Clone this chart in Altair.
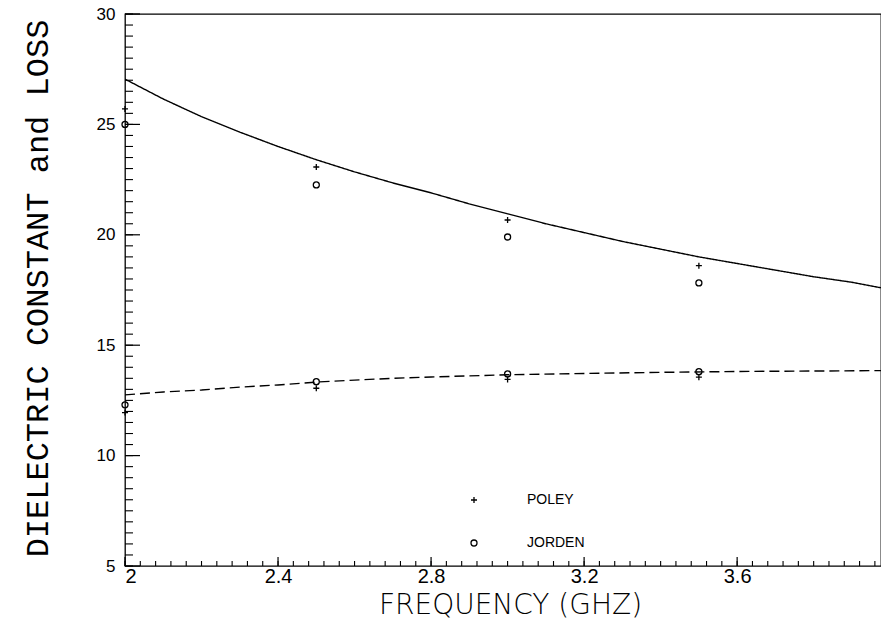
import altair as alt
import pandas as pd

# ---- data ----
const_freq = [2.0, 2.1, 2.2, 2.3, 2.4, 2.5, 2.6, 2.7, 2.8, 2.9, 3.0, 3.1, 3.2, 3.3, 3.4, 3.5, 3.6, 3.7, 3.8, 3.9, 3.976]
const_vals = [27.05, 26.15, 25.35, 24.65, 24.0, 23.4, 22.85, 22.35, 21.9, 21.4, 20.95, 20.5, 20.1, 19.7, 19.35, 19.0, 18.7, 18.4, 18.1, 17.85, 17.6]
loss_freq = [2.0, 2.1, 2.2, 2.3, 2.4, 2.5, 2.6, 2.7, 2.8, 2.9, 3.0, 3.2, 3.4, 3.6, 3.8, 3.976]
loss_vals = [12.75, 12.88, 12.97, 13.1, 13.2, 13.33, 13.42, 13.5, 13.56, 13.61, 13.66, 13.72, 13.77, 13.81, 13.83, 13.85]

meas_freq = [2.0, 2.5, 3.0, 3.5, 2.0, 2.5, 3.0, 3.5]
poley_vals = [25.7, 23.07, 20.67, 18.6, 11.95, 13.05, 13.45, 13.55]
jorden_vals = [25.0, 22.26, 19.9, 17.82, 12.3, 13.35, 13.7, 13.8]
series_names = ["POLEY", "JORDEN"]

x_major = [2, 2.4, 2.8, 3.2, 3.6]
y_major = [5, 10, 15, 20, 25, 30]
x_minor = [round(2 + 0.04 * i, 2) for i in range(50)]
y_minor = [5 + 0.5 * i for i in range(51)]

W, H = 756, 552

# ---- tables ----
curves = pd.concat([
    pd.DataFrame({"freq": const_freq, "value": const_vals, "curve": "const"}),
    pd.DataFrame({"freq": loss_freq, "value": loss_vals, "curve": "loss"}),
])
meas = pd.concat([
    pd.DataFrame({"freq": meas_freq, "value": poley_vals, "series": "POLEY"}),
    pd.DataFrame({"freq": meas_freq, "value": jorden_vals, "series": "JORDEN"}),
])

xs = alt.Scale(domain=[2, 3.976], nice=False, zero=False)
ys = alt.Scale(domain=[5, 30], nice=False, zero=False)

plus_path = "M-1,0L1,0M0,-1L0,1"

x_label_axis = alt.Axis(
    orient="bottom", values=x_major, format="~g", ticks=False, domain=False, grid=False,
    labelFont="Liberation Sans", labelFontSize=20, labelColor="black", labelPadding=0,
    title="FREQUENCY  (GHZ)", titleFont="DejaVu Sans", titleFontSize=28, titleFontWeight=300,
    titleColor="black", titleX=385, titleY=47, titleAlign="center", titleBaseline="alphabetic",
)
y_label_axis = alt.Axis(
    orient="left", values=y_major, format="d", ticks=False, domain=False, grid=False,
    labelFont="Liberation Sans", labelFontSize=17, labelColor="black", labelPadding=10,
    title="DIELECTRIC CONSTANT and LOSS", titleFont="Liberation Mono", titleFontSize=32,
    titleFontWeight="normal", titleColor="black", titleAngle=270, titleX=-78, titleY=274,
    titleAlign="center", titleBaseline="alphabetic",
)

# inward-pointing ticks, positioned through the scales
xmaj = alt.Chart(pd.DataFrame({"xt": x_major})).mark_rule(color="black", strokeWidth=1.2).encode(
    x=alt.X("xt:Q", scale=xs, axis=x_label_axis), y=alt.value(H), y2=alt.value(H - 9))
xmin = alt.Chart(pd.DataFrame({"xm": x_minor})).mark_rule(color="black", strokeWidth=1.1).encode(
    x=alt.X("xm:Q", scale=xs), y=alt.value(H), y2=alt.value(H - 5))
ymaj = alt.Chart(pd.DataFrame({"yt": y_major})).mark_rule(color="black", strokeWidth=1.2).encode(
    y=alt.Y("yt:Q", scale=ys, axis=y_label_axis), x=alt.value(0), x2=alt.value(15))
ymin = alt.Chart(pd.DataFrame({"ym": y_minor})).mark_rule(color="black", strokeWidth=1.1).encode(
    y=alt.Y("ym:Q", scale=ys), x=alt.value(0), x2=alt.value(8))

lines = alt.Chart(curves).mark_line(color="black", strokeWidth=1.4, clip=True).encode(
    x=alt.X("freq:Q", scale=xs),
    y=alt.Y("value:Q", scale=ys),
    strokeDash=alt.StrokeDash("curve:N", scale=alt.Scale(domain=["const", "loss"], range=[[1, 0], [10, 5]]), legend=None),
)

pts = alt.Chart(meas).mark_point(filled=False, color="black", strokeWidth=1.3, opacity=1, size=36).encode(
    x=alt.X("freq:Q", scale=xs),
    y=alt.Y("value:Q", scale=ys),
    shape=alt.Shape("series:N", scale=alt.Scale(domain=series_names, range=[plus_path, "circle"]),
                    legend=alt.Legend(title=None, orient="none", legendX=342, legendY=479, direction="vertical",
                                      labelFont="Liberation Sans", labelFontSize=14, labelColor="black",
                                      labelOffset=46, rowPadding=29, padding=0, symbolSize=36,
                                      symbolStrokeColor="black", symbolStrokeWidth=1.3,
                                      symbolFillColor="transparent")),
)

chart = alt.layer(xmaj, ymaj, xmin, ymin, lines, pts).properties(
    width=W, height=H,
    autosize=alt.AutoSizeParams(type="none"),
    padding={"left": 125, "top": 14, "right": 0, "bottom": 54},
    background="white",
).configure_view(stroke="black", strokeWidth=1.3)

chart.save("out.html", embed_options={"renderer": "svg", "actions": False})
